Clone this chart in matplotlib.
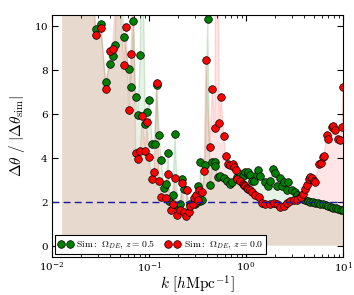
import numpy as np
import matplotlib
matplotlib.use("Agg")
import matplotlib.pyplot as plt

plt.rcParams['font.family'] = 'serif'
plt.rcParams['font.serif'] = ['DejaVu Serif']
plt.rcParams['mathtext.fontset'] = 'cm'
plt.rcParams['axes.formatter.use_mathtext'] = True

# Sim: Omega_DE, z = 0.5
k_z05 = [0.0127, 0.016, 0.020, 0.024, 0.0284, 0.0318, 0.0358, 0.0396, 0.0422, 0.0446,
         0.0479, 0.0514, 0.0552, 0.0618, 0.0647, 0.0689, 0.0729, 0.0765, 0.0813, 0.0841,
         0.0878, 0.0916, 0.0947, 0.1007, 0.1081, 0.1145, 0.120, 0.1277, 0.133, 0.143,
         0.1496, 0.158, 0.162, 0.1755, 0.1854, 0.1977, 0.209, 0.2205, 0.230, 0.2646,
         0.298, 0.3105, 0.320, 0.3357, 0.338, 0.354, 0.378, 0.403, 0.4256, 0.4497,
         0.4757, 0.483, 0.511, 0.543, 0.589, 0.637, 0.689, 0.718, 0.807, 0.873,
         0.924, 0.984, 1.042, 1.056, 1.107, 1.145, 1.218, 1.289, 1.340, 1.394,
         1.570, 1.675, 1.767, 1.914, 1.991, 2.072, 2.244, 2.335, 2.484, 2.630,
         2.731, 2.960, 3.199, 3.332, 3.606, 3.85, 4.10, 4.35, 4.60, 4.90,
         5.20, 5.50, 5.85, 6.20, 6.60, 7.00, 7.45, 7.90, 8.40, 8.90, 9.45, 10.0]
r_z05 = [30.0, 20.0, 25.0, 14.0, 9.84, 10.08, 7.43, 8.24, 8.60, 9.12,
         14.0, 12.0, 9.46, 8.03, 7.20, 10.21, 6.75, 5.94, 8.66, 16.0,
         11.0, 5.52, 6.06, 6.61, 4.62, 4.62, 7.28, 5.05, 3.91, 2.60,
         2.78, 4.21, 2.05, 2.28, 5.08, 1.79, 1.90, 3.04, 2.58, 1.90,
         1.90, 1.97, 2.69, 2.05, 3.78, 2.08, 3.68, 10.3, 2.74, 3.78,
         3.78, 3.62, 3.11, 3.15, 3.09, 2.96, 2.81, 2.89, 3.11, 3.24,
         3.15, 3.34, 3.27, 3.34, 3.19, 2.96, 2.93, 3.19, 3.45, 3.15,
         2.89, 2.69, 2.93, 3.50, 3.31, 2.69, 3.09, 2.69, 2.89, 2.54,
         2.89, 2.54, 2.43, 2.28, 2.20, 2.10, 2.06, 2.02, 1.99, 1.97,
         1.94, 1.93, 1.91, 1.88, 1.85, 1.80, 1.76, 1.73, 1.70, 1.67, 1.63, 1.60]

# Sim: Omega_DE, z = 0.0
k_z00 = [0.0127, 0.017, 0.021, 0.025, 0.0284, 0.032, 0.0358, 0.0393, 0.0422, 0.047,
         0.0552, 0.0582, 0.0618, 0.065, 0.069, 0.0729, 0.0765, 0.0808, 0.0854, 0.0916,
         0.095, 0.100, 0.1066, 0.1127, 0.120, 0.1268, 0.134, 0.1486, 0.157, 0.1675,
         0.178, 0.184, 0.193, 0.209, 0.219, 0.2296, 0.2405, 0.2447, 0.258, 0.2646,
         0.2864, 0.291, 0.3055, 0.322, 0.330, 0.349, 0.369, 0.3845, 0.4227, 0.4497,
         0.4757, 0.491, 0.514, 0.531, 0.556, 0.589, 0.618, 0.652, 0.684, 0.734,
         0.746, 0.783, 0.807, 0.867, 0.924, 0.960, 0.984, 1.02, 1.056, 1.10,
         1.153, 1.247, 1.352, 1.462, 1.581, 1.781, 1.932, 2.089, 2.259, 2.449,
         2.649, 2.864, 3.104, 3.355, 3.691, 3.899, 4.058, 4.25, 4.429, 4.603,
         4.786, 4.989, 5.176, 5.658, 5.93, 6.18, 6.37, 6.79, 7.06, 7.76,
         7.94, 8.28, 8.81, 9.31, 9.70, 10.0]
r_z00 = [28.0, 18.0, 22.0, 12.0, 9.58, 9.91, 7.11, 8.83, 8.94, 13.0,
         8.21, 9.93, 6.15, 8.71, 12.0, 4.23, 3.92, 4.30, 5.90, 4.29,
         5.61, 4.03, 3.04, 3.34, 7.37, 2.92, 2.20, 2.16, 3.27, 1.60,
         1.90, 3.09, 1.40, 1.60, 2.83, 1.52, 1.37, 2.51, 1.52, 1.78,
         1.90, 2.16, 2.28, 2.08, 2.51, 2.43, 3.37, 8.45, 4.47, 7.11,
         5.35, 16.0, 14.0, 5.59, 6.76, 4.98, 4.06, 3.72, 3.65, 3.72,
         3.57, 3.45, 3.04, 2.96, 2.81, 2.74, 2.69, 2.61, 2.58, 2.51,
         2.43, 2.28, 2.20, 1.93, 1.90, 1.87, 1.93, 1.90, 1.75, 1.82,
         1.93, 2.05, 2.08, 2.08, 2.20, 2.36, 2.58, 2.74, 3.04, 3.11,
         3.09, 2.96, 2.89, 3.72, 3.77, 4.03, 4.06, 5.05, 4.83, 5.40,
         5.44, 5.24, 4.83, 4.82, 5.40, 7.19]

fig = plt.figure(figsize=(3.54, 2.95), dpi=100)
ax = fig.add_axes([0.147, 0.130, 0.822, 0.8205])

# bandes remplies + lignes fines
ax.fill_between(k_z05, 0, r_z05, color='green', alpha=0.1, lw=0)
ax.fill_between(k_z00, 0, r_z00, color='red', alpha=0.1, lw=0)
ax.plot(k_z05, r_z05, '-', color='green', alpha=0.15, lw=1)
ax.plot(k_z00, r_z00, '-', color='red', alpha=0.12, lw=1)

ax.plot(k_z05, r_z05, 'o', color='green', mec='black', mew=0.5, ms=5.5,
        label=r'$\mathrm{Sim{:}}\ \Omega_{DE},\, z=0.5$')
ax.plot(k_z00, r_z00, 'o', color='red', mec='black', mew=0.5, ms=5.5,
        label=r'$\mathrm{Sim{:}}\ \Omega_{DE},\, z=0.0$')

ax.axhline(2, color='#1a1aa0', ls=(0, (5, 3)), lw=1)

ax.set_xscale('log')
ax.set_xlim(0.01, 10)
ax.set_ylim(-0.5, 10.5)
ax.set_yticks([0, 2, 4, 6, 8, 10])
ax.tick_params(which='both', direction='in', top=True, right=True, labelsize=7.5, pad=2.5)
ax.tick_params(which='major', length=4)
ax.tick_params(which='minor', length=2)
ax.set_xlabel(r'$k\ [h\mathrm{Mpc}^{-1}]$', fontsize=11, labelpad=-1)
ax.set_ylabel(r'$\Delta\theta\ /\ |\Delta\theta_{\mathrm{sim}}|$', fontsize=11, labelpad=5)

leg = ax.legend(loc='lower left', ncol=2, numpoints=2, fontsize=7,
                fancybox=False, edgecolor='black', framealpha=1,
                borderaxespad=0.3, handlelength=1.5, handletextpad=0.4,
                columnspacing=1.0, borderpad=0.3)
leg.get_frame().set_linewidth(0.8)

fig.savefig('out.png', dpi=100)
